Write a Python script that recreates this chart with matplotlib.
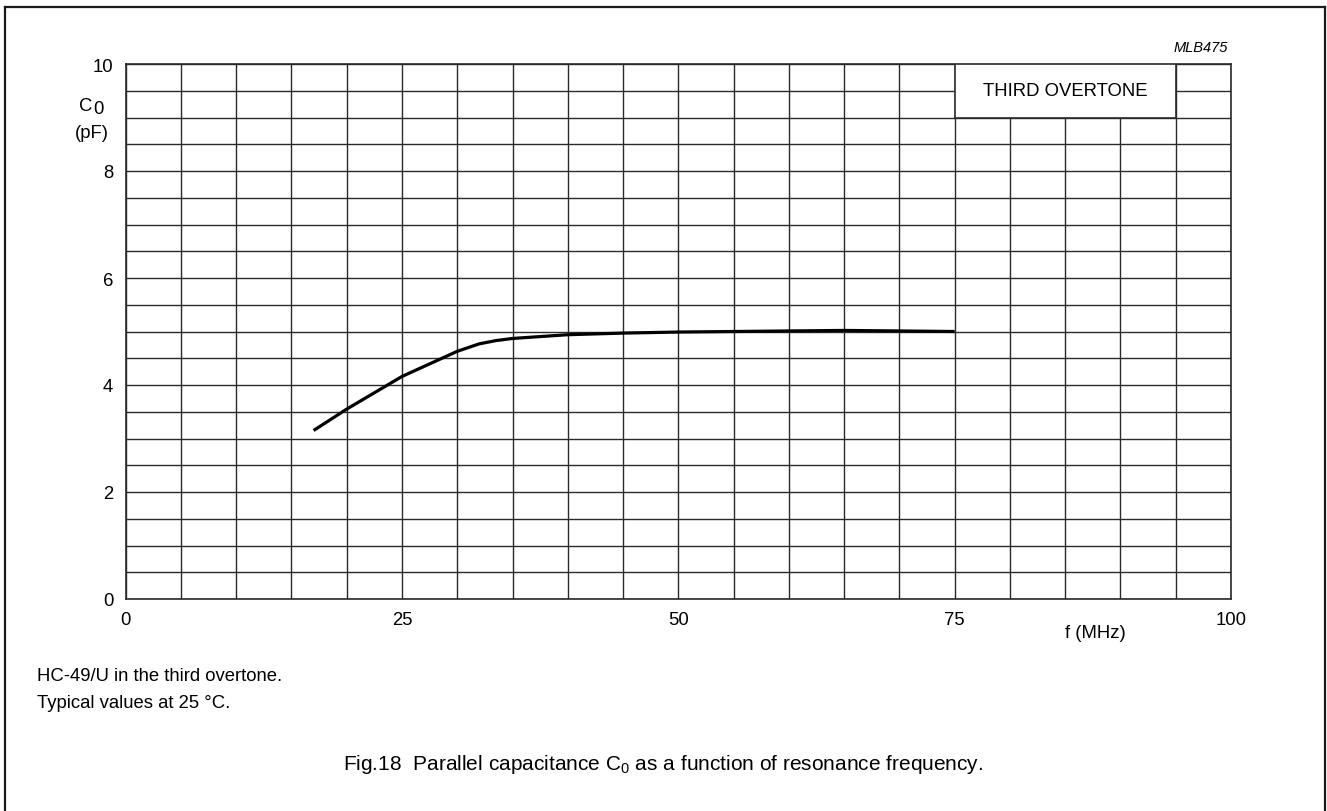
import matplotlib
matplotlib.use('Agg')
import matplotlib.pyplot as plt
from matplotlib.patches import Rectangle
from matplotlib.lines import Line2D

plt.rcParams['font.family'] = ['Liberation Sans', 'DejaVu Sans']
plt.rcParams['mathtext.fontset'] = 'custom'
plt.rcParams['mathtext.rm'] = 'Liberation Sans'
plt.rcParams['mathtext.it'] = 'Liberation Sans:italic'

# data
freq_mhz = [17, 20, 25, 30, 32, 33.5, 35, 40, 45, 50, 55, 60, 65, 70, 75]
c0_pf = [3.15, 3.55, 4.16, 4.63, 4.77, 4.83, 4.87, 4.94, 4.97, 4.99, 5.0, 5.01, 5.02, 5.01, 5.0]
x_ticks = [0, 25, 50, 75, 100]
y_ticks = [0, 2, 4, 6, 8, 10]
legend_text = 'THIRD OVERTONE'

W, H = 1327, 812
FS = 13.3
fig = plt.figure(figsize=(W / 100, H / 100), dpi=100)
ax = fig.add_axes([125.7 / W, 1 - 600 / H, (1231 - 125.7) / W, (600 - 65) / H])

ax.plot(freq_mhz, c0_pf, color='black', lw=2.3, solid_capstyle='butt', zorder=4)

ax.set_xlim(0, 100)
ax.set_ylim(0, 10)
ax.set_xticks(x_ticks)
ax.set_yticks(y_ticks)
ax.set_xticks(range(0, 101, 5), minor=True)
ax.set_yticks([i * 0.5 for i in range(21)], minor=True)
ax.grid(which='both', color='#2a2a2a', lw=1.0, zorder=1)
ax.set_axisbelow(True)
ax.tick_params(which='both', length=0)
ax.tick_params(axis='x', pad=9, labelsize=FS)
ax.tick_params(axis='y', pad=9, labelsize=FS)
for s in ax.spines.values():
    s.set_color('#2a2a2a')
    s.set_linewidth(1.2)

# boxed label over the grid
ax.add_patch(Rectangle((75, 9), 20, 1, facecolor='white', edgecolor='#2a2a2a',
                       lw=1.2, zorder=3))
ax.text(85, 9.5, legend_text, ha='center', va='center', fontsize=FS, zorder=5)

# axis labels placed like the datasheet
ax.text(-3.0, 9.22, 'C', ha='right', va='center', fontsize=FS, clip_on=False)
ax.text(-2.95, 9.16, '0', ha='left', va='center', fontsize=FS, clip_on=False)
ax.text(-1.5, 8.72, '(pF)', ha='right', va='center', fontsize=FS, clip_on=False)
ax.text(87.7, -0.62, 'f (MHz)', ha='center', va='center', fontsize=FS, clip_on=False)

fig.text(1228 / W, 1 - 48 / H, 'MLB475', ha='right', va='center', fontsize=10.5,
         style='italic')
fig.text(37 / W, 1 - 677 / H, 'HC-49/U in the third overtone.', ha='left',
         va='center', fontsize=FS)
fig.text(37 / W, 1 - 704 / H, 'Typical values at 25 \u00b0C.', ha='left',
         va='center', fontsize=FS)
fig.text(663 / W, 1 - 765 / H,
         'Fig.18  Parallel capacitance C$_0$ as a function of resonance frequency.',
         ha='center', va='center', fontsize=15)

# page frame (bottom edge runs off the image)
fx0, fx1, fy0 = 5 / W, 1325 / W, 1 - 8 / H
for xs, ys in [([fx0, fx0], [fy0, -0.1]), ([fx1, fx1], [fy0, -0.1]), ([fx0, fx1], [fy0, fy0])]:
    fig.add_artist(Line2D(xs, ys, color='#1a1a1a', lw=1.6))

fig.savefig('out.png', dpi=100)
